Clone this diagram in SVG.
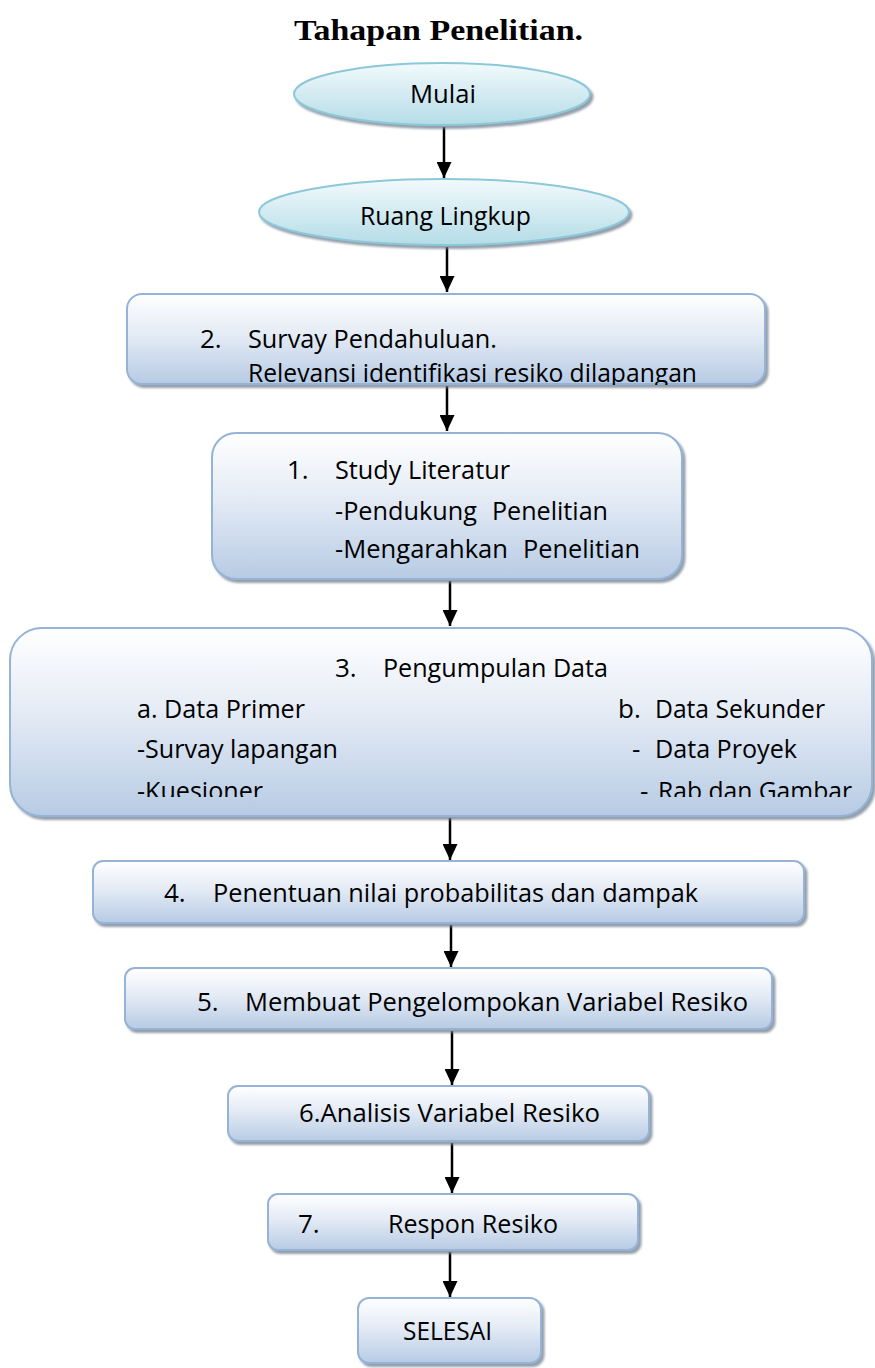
<svg xmlns="http://www.w3.org/2000/svg" width="875" height="1368" viewBox="0 0 875 1368">
<defs>
<style>
.t{font-family:"Open Sans","Liberation Sans",Arial,sans-serif;font-size:26px;fill:#000}
.title{font-family:"Liberation Serif","Times New Roman",serif;font-size:30px;font-weight:bold;fill:#000}
.box{fill:url(#gb);stroke:#95b3d7;stroke-width:2;filter:url(#sh)}
.ell{fill:url(#ge);stroke:#8cc8d8;stroke-width:2;filter:url(#sh)}
.con{stroke:#000;stroke-width:2.5;fill:none;marker-end:url(#ah)}
</style>
<linearGradient id="gb" x1="0" y1="0" x2="0" y2="1">
<stop offset="0" stop-color="#ffffff"/>
<stop offset="0.45" stop-color="#e4ebf5"/>
<stop offset="1" stop-color="#b7cbe4"/>
</linearGradient>
<linearGradient id="ge" x1="0" y1="0" x2="0" y2="1">
<stop offset="0" stop-color="#f2fafc"/>
<stop offset="1" stop-color="#b5dce7"/>
</linearGradient>
<filter id="sh" x="-5%" y="-10%" width="115%" height="130%">
<feDropShadow dx="2.5" dy="3" stdDeviation="1.2" flood-color="#6f7f8f" flood-opacity="0.75"/>
</filter>
<marker id="ah" viewBox="0 0 16 15" refX="16" refY="7.5" markerWidth="16" markerHeight="15" markerUnits="userSpaceOnUse" orient="auto">
<path d="M0,0 L16,7.5 L0,15 z" fill="#000"/>
</marker>
<clipPath id="c2"><rect x="127" y="294" width="638" height="91"/></clipPath>
<clipPath id="c3"><rect x="10" y="628" width="862" height="169"/></clipPath>
</defs>

<text class="title" x="294" y="40" textLength="289" lengthAdjust="spacingAndGlyphs">Tahapan Penelitian.</text>

<g id="connectors">
<line class="con" x1="444" y1="127" x2="444" y2="178"/>
<line class="con" x1="447" y1="247" x2="447" y2="292"/>
<line class="con" x1="447" y1="386" x2="447" y2="431"/>
<line class="con" x1="450" y1="581" x2="450" y2="626"/>
<line class="con" x1="450" y1="818" x2="450" y2="860"/>
<line class="con" x1="451" y1="925" x2="451" y2="967"/>
<line class="con" x1="452" y1="1031" x2="452" y2="1085"/>
<line class="con" x1="452" y1="1143" x2="452" y2="1193"/>
<line class="con" x1="450" y1="1252" x2="450" y2="1297"/>
</g>

<g id="mulai">
<ellipse class="ell" cx="442" cy="94" rx="148" ry="31"/>
<text class="t" x="410" y="103" textLength="66" lengthAdjust="spacingAndGlyphs">Mulai</text>
</g>

<g id="ruang-lingkup">
<ellipse class="ell" cx="444" cy="212" rx="185" ry="33"/>
<text class="t" x="360" y="225" textLength="171" lengthAdjust="spacingAndGlyphs">Ruang Lingkup</text>
</g>

<g id="survay">
<rect class="box" x="127" y="294" width="638" height="90" rx="15"/>
<g clip-path="url(#c2)">
<text class="t" x="200" y="348">2.</text>
<text class="t" x="248" y="348" textLength="249" lengthAdjust="spacingAndGlyphs">Survay Pendahuluan.</text>
<text class="t" x="248" y="382" textLength="449" lengthAdjust="spacingAndGlyphs">Relevansi identifikasi resiko dilapangan</text>
</g>
</g>

<g id="study">
<rect class="box" x="212" y="433" width="470" height="146" rx="24"/>
<text class="t" x="287" y="479">1.</text>
<text class="t" x="335" y="479" textLength="175" lengthAdjust="spacingAndGlyphs">Study Literatur</text>
<text class="t" x="335" y="520" textLength="142" lengthAdjust="spacingAndGlyphs">-Pendukung</text>
<text class="t" x="492" y="520" textLength="116" lengthAdjust="spacingAndGlyphs">Penelitian</text>
<text class="t" x="335" y="558" textLength="173" lengthAdjust="spacingAndGlyphs">-Mengarahkan</text>
<text class="t" x="523" y="558" textLength="117" lengthAdjust="spacingAndGlyphs">Penelitian</text>
</g>

<g id="pengumpulan">
<rect class="box" x="10" y="628" width="862" height="188" rx="32"/>
<g clip-path="url(#c3)">
<text class="t" x="335" y="677">3.</text>
<text class="t" x="383" y="677" textLength="225" lengthAdjust="spacingAndGlyphs">Pengumpulan Data</text>
<text class="t" x="137" y="718" textLength="168" lengthAdjust="spacingAndGlyphs">a. Data Primer</text>
<text class="t" x="137" y="758" textLength="201" lengthAdjust="spacingAndGlyphs">-Survay lapangan</text>
<text class="t" x="137" y="800" textLength="126" lengthAdjust="spacingAndGlyphs">-Kuesioner</text>
<text class="t" x="618" y="718">b.</text>
<text class="t" x="655" y="718" textLength="170" lengthAdjust="spacingAndGlyphs">Data Sekunder</text>
<text class="t" x="632" y="758">-</text>
<text class="t" x="655" y="758" textLength="142" lengthAdjust="spacingAndGlyphs">Data Proyek</text>
<text class="t" x="640" y="800">-</text>
<text class="t" x="658" y="800" textLength="194" lengthAdjust="spacingAndGlyphs">Rab dan Gambar</text>
</g>
</g>

<g id="penentuan">
<rect class="box" x="93" y="861" width="711" height="62" rx="10"/>
<text class="t" x="164" y="902">4.</text>
<text class="t" x="213" y="902" textLength="485" lengthAdjust="spacingAndGlyphs">Penentuan nilai probabilitas dan dampak</text>
</g>

<g id="pengelompokan">
<rect class="box" x="125" y="968" width="647" height="61" rx="10"/>
<text class="t" x="197" y="1011">5.</text>
<text class="t" x="245" y="1011" textLength="503" lengthAdjust="spacingAndGlyphs">Membuat Pengelompokan Variabel Resiko</text>
</g>

<g id="analisis">
<rect class="box" x="228" y="1086" width="421" height="55" rx="10"/>
<text class="t" x="299" y="1122" textLength="301" lengthAdjust="spacingAndGlyphs">6.Analisis Variabel Resiko</text>
</g>

<g id="respon">
<rect class="box" x="268" y="1194" width="370" height="56" rx="10"/>
<text class="t" x="298" y="1233">7.</text>
<text class="t" x="388" y="1233" textLength="170" lengthAdjust="spacingAndGlyphs">Respon Resiko</text>
</g>

<g id="selesai">
<rect class="box" x="358" y="1298" width="183" height="65" rx="11"/>
<text class="t" x="403" y="1340" textLength="89" lengthAdjust="spacingAndGlyphs">SELESAI</text>
</g>
</svg>
